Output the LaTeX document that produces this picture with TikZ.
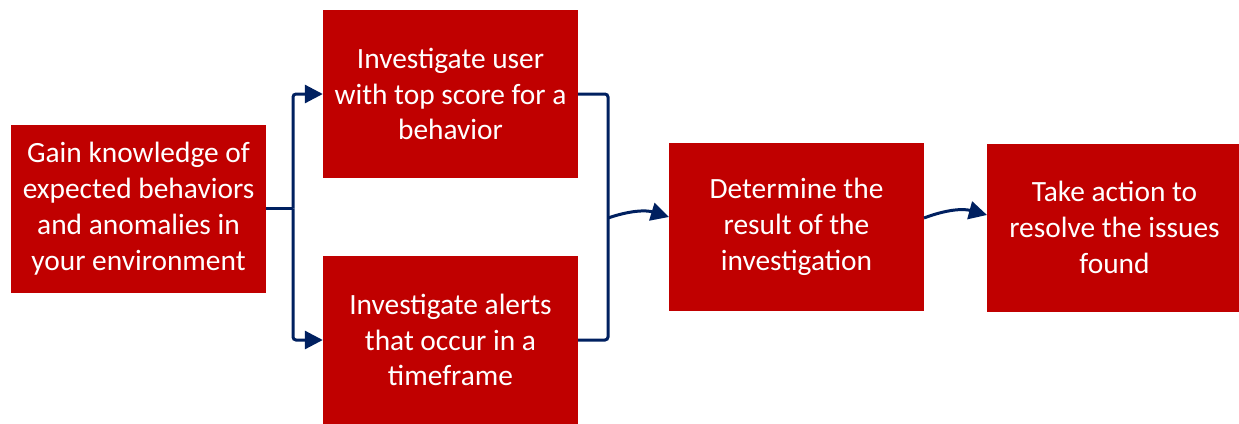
\documentclass[tikz,border=0pt]{standalone}
\usepackage{fontspec}
\setmainfont{Carlito}
\usetikzlibrary{arrows.meta}
\definecolor{boxred}{HTML}{C00000}
\definecolor{navy}{HTML}{002060}
\begin{document}
\begin{tikzpicture}[x=1bp,y=-1bp,
  stepbox/.style={fill=boxred, draw=none, minimum width=255bp, minimum height=168bp,
    inner sep=0pt, text=white, align=center, font=\fontsize{29.5}{36}\selectfont},
  conn/.style={draw=navy, line width=3bp},
  arr/.style={conn, -{Triangle[length=18bp,width=18bp]}}]
\useasboundingbox (0,0) rectangle (1239,423);
\node[stepbox] (A) at (138.5,208.5) {Gain knowledge of\\expected behaviors\\and anomalies in\\your environment};
\node[stepbox] (B) at (450.5,94) {Investigate user\\with top score for a\\behavior};
\node[stepbox] (C) at (450.5,340) {Investigate alerts\\that occur in a\\timeframe};
\node[stepbox] (D) at (796.5,227) {Determine the\\result of the\\investigation};
\node[stepbox] (E) at (1114.5,227.5) {Take action to\\resolve the issues\\found};
\coordinate (fork) at (293,208.5);
\coordinate (merge) at (608,218);
\coordinate (din) at (669,217);
\coordinate (dout) at (924,218);
\coordinate (ein) at (987,215);
\draw[conn] (A.east) -- (fork);
\draw[arr, rounded corners=3bp] (fork) |- (B.west);
\draw[arr, rounded corners=3bp] (fork) |- (C.west);
\draw[conn, rounded corners=3bp] (B.east) -| (merge) |- (C.east);
\draw[arr] (merge) to[bend left=18] (din);
\draw[arr] (dout) to[bend left=18] (ein);
\end{tikzpicture}
\end{document}
